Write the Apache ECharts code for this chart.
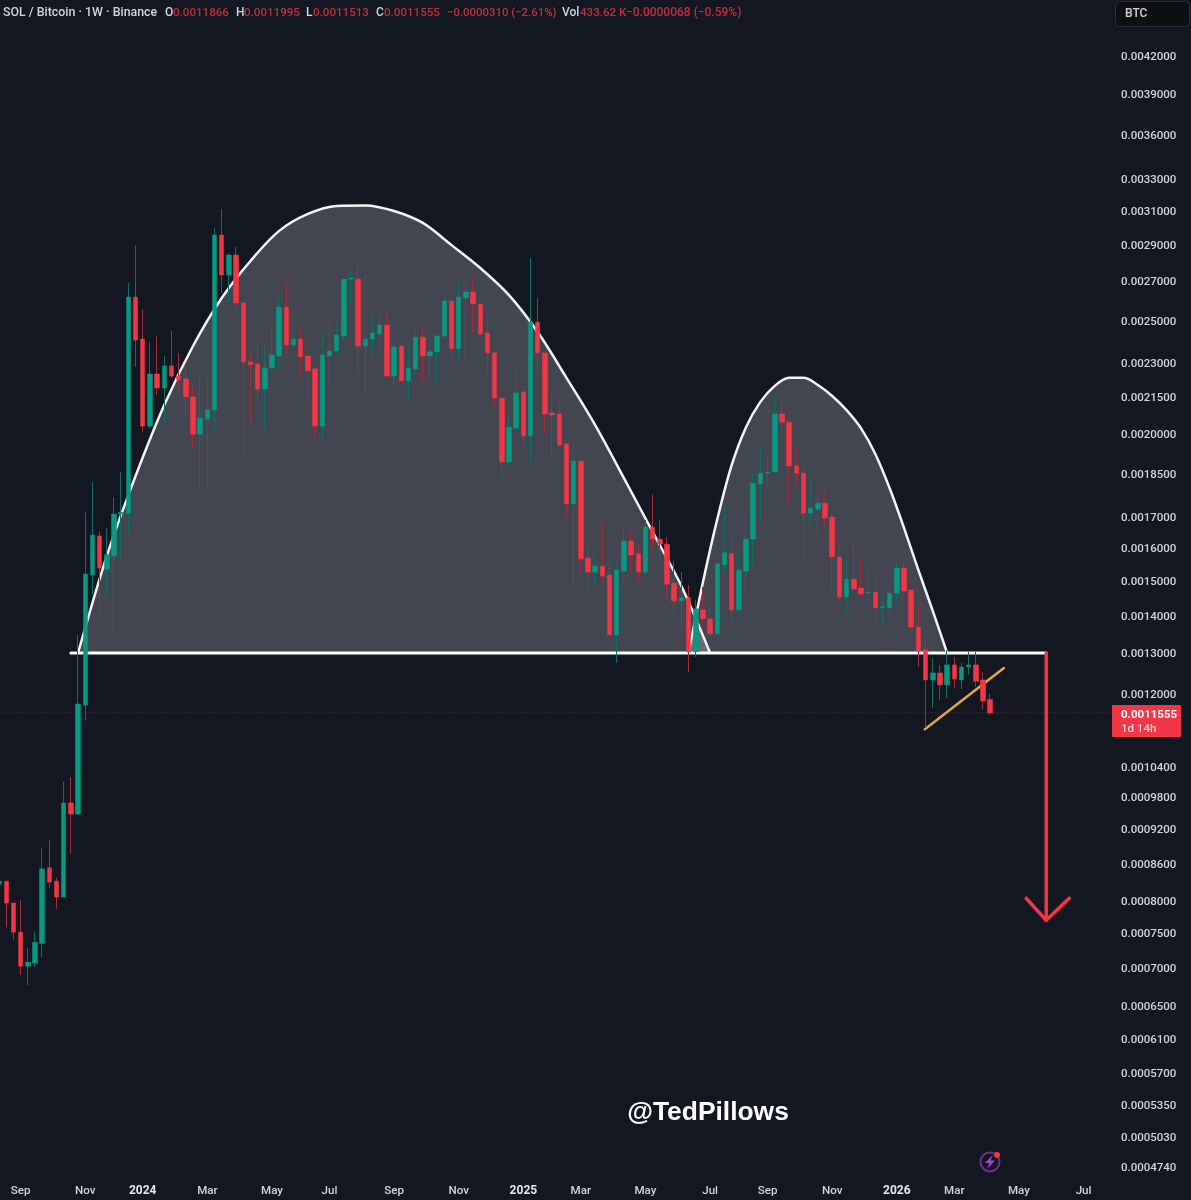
<!DOCTYPE html>
<html><head><meta charset="utf-8">
<style>html,body{margin:0;padding:0;background:#131722;overflow:hidden}#c{position:absolute;left:-10px;top:0;width:1201px;height:1200px}</style>
<script src="https://cdn.jsdelivr.net/npm/echarts@6/dist/echarts.min.js"></script>
</head><body><div id="c"></div>
<script>
// Weekly candles, prices in thousandths of a BTC
const opens = [
.8256,.8304,.7955,.7512,.7026,.7068,.7348,.8524,.8304,.8048,
.9683,.9474,1.1735,1.515,1.636,1.533,1.573,1.708,1.711,2.616,
2.409,2.030,2.249,2.188,2.285,2.240,2.227,2.150,1.998,2.058,
2.095,2.955,2.732,2.841,2.586,2.303,2.294,2.183,2.276,2.330,
2.565,2.381,2.409,2.330,2.272,2.030,2.330,2.353,2.423,2.710,
2.710,2.376,2.409,2.433,2.476,2.240,2.376,2.219,2.272,2.418,
2.330,2.349,2.423,2.596,2.363,2.611,2.642,2.581,2.438,2.344,
2.145,1.892,2.022,2.171,1.991,2.490,2.344,2.083,2.079,1.960,
1.742,1.895,1.567,1.524,1.542,1.515,1.347,1.527,1.620,1.580,
1.524,1.665,1.626,1.610,1.491,1.440,1.449,1.303,1.415,1.390,
1.350,1.546,1.580,1.415,1.527,1.626,1.812,1.851,1.855,2.079,
2.046,1.877,1.851,1.711,1.724,1.745,1.698,1.570,1.451,1.503,
1.477,1.463,1.465,1.421,1.421,1.462,1.536,1.471,1.368,1.308,
1.233,1.250,1.221,1.270,1.233,1.265,1.270,1.233,1.1866];
const closes = [
.8304,.7955,.7512,.7026,.7082,.7362,.8507,.8288,.8048,.9683,
.9474,1.176,1.518,1.639,1.536,1.577,1.708,1.714,2.616,2.404,
2.030,2.249,2.188,2.285,2.240,2.223,2.150,1.998,2.062,2.095,
2.955,2.732,2.841,2.586,2.303,2.290,2.183,2.276,2.335,2.565,
2.381,2.409,2.326,2.263,2.030,2.335,2.353,2.428,2.710,2.716,
2.376,2.409,2.438,2.476,2.240,2.372,2.219,2.276,2.418,2.330,
2.349,2.423,2.596,2.363,2.616,2.642,2.581,2.433,2.344,2.145,
1.892,2.026,2.166,1.991,2.490,2.344,2.079,2.075,1.956,1.742,
1.895,1.564,1.524,1.542,1.512,1.347,1.530,1.620,1.576,1.524,
1.665,1.626,1.610,1.488,1.440,1.449,1.303,1.418,1.390,1.350,
1.549,1.583,1.415,1.530,1.626,1.815,1.851,1.855,2.079,2.046,
1.877,1.851,1.711,1.728,1.745,1.695,1.570,1.451,1.503,1.474,
1.460,1.465,1.421,1.424,1.462,1.536,1.468,1.368,1.305,1.233,
1.250,1.221,1.270,1.235,1.265,1.270,1.230,1.183,1.1555];
const highs = [
.8320,.8304,.7955,.800,.728,.7525,.8864,.900,.8354,1.009,
1.019,1.347,1.714,1.819,1.649,1.662,1.766,1.855,2.689,2.897,
2.555,2.395,2.423,2.330,2.447,2.344,2.290,2.197,2.236,2.232,
2.997,3.110,2.852,2.886,2.586,2.344,2.395,2.381,2.471,2.616,
2.700,2.540,2.462,2.330,2.272,2.442,2.490,2.495,2.710,2.754,
2.791,2.743,2.520,2.530,2.535,2.390,2.381,2.390,2.452,2.462,
2.390,2.428,2.616,2.596,2.694,2.684,2.716,2.581,2.525,2.344,
2.145,2.075,2.254,2.201,2.824,2.611,2.344,2.171,2.129,1.960,
1.964,1.895,1.617,1.576,1.678,1.552,1.561,1.665,1.652,1.607,
1.688,1.776,1.688,1.633,1.558,1.524,1.486,1.443,1.480,1.429,
1.549,1.738,1.633,1.583,1.711,1.851,1.948,1.907,2.154,2.154,
2.050,1.948,1.888,1.840,1.763,1.783,1.708,1.607,1.561,1.607,
1.567,1.536,1.509,1.462,1.480,1.552,1.561,1.471,1.432,1.339,
1.287,1.270,1.308,1.290,1.275,1.303,1.303,1.252,1.1995];
const lows = [
.8224,.7585,.7405,.6905,.677,.7012,.7152,.8192,.7865,.8048,
.8762,.9455,1.138,1.457,1.407,1.449,1.355,1.561,1.649,2.280,
2.006,2.020,2.158,2.034,2.232,2.183,2.070,1.948,1.801,1.797,
2.014,2.636,2.591,2.540,1.918,2.042,2.124,2.026,2.258,2.267,
2.344,2.376,2.236,2.133,1.983,1.979,2.192,2.335,2.404,2.570,
2.254,2.150,2.330,2.358,2.236,2.201,2.210,2.141,2.254,2.210,
2.240,2.210,2.414,2.330,2.312,2.303,2.442,2.423,2.254,2.108,
1.837,1.881,2.022,1.948,1.892,2.258,2.002,1.907,1.952,1.698,
1.480,1.524,1.462,1.486,1.488,1.345,1.275,1.488,1.530,1.494,
1.500,1.592,1.552,1.449,1.407,1.360,1.252,1.290,1.360,1.347,
1.350,1.521,1.387,1.412,1.465,1.546,1.688,1.801,1.850,2.002,
1.749,1.808,1.555,1.671,1.645,1.662,1.474,1.435,1.407,1.471,
1.449,1.440,1.376,1.371,1.398,1.435,1.462,1.363,1.265,1.122,
1.167,1.185,1.190,1.214,1.211,1.245,1.216,1.164,1.1513];

// Price-axis tick labels
const priceTicks = [0.0042,0.0039,0.0036,0.0033,0.0031,0.0029,0.0027,0.0025,0.0023,0.00215,0.002,0.00185,0.0017,0.0016,0.0015,0.0014,0.0013,0.0012,0.00104,0.00098,0.00092,0.00086,0.0008,0.00075,0.0007,0.00065,0.00061,0.00057,0.000535,0.000503,0.000474];
// Month labels, keyed by the Monday that starts the month's first week
const monthLabels = {'2023-09-04':'Sep','2023-11-06':'Nov','2024-01-01':'2024','2024-03-04':'Mar','2024-05-06':'May','2024-07-01':'Jul','2024-09-02':'Sep','2024-11-04':'Nov','2025-01-06':'2025','2025-03-03':'Mar','2025-05-05':'May','2025-07-07':'Jul','2025-09-01':'Sep','2025-11-03':'Nov','2026-01-05':'2026','2026-03-02':'Mar','2026-05-04':'May','2026-07-06':'Jul'};
const yearLabels = ['2024','2025','2026'];
const firstWeek = '2023-08-14', weekCount = 156;

// Drawn patterns: week number (0 = 2023-09-04) and price in thousandths of a BTC
const leftDomeWeeks  = [8,12,16,20,24,28,32,36,40,44,48,52,56,60,64,68,72,76,80,84,88,92,96];
const leftDomePrices = [1.300,1.573,1.840,2.116,2.376,2.611,2.808,2.979,3.080,3.129,3.132,3.098,3.026,2.897,2.770,2.626,2.442,2.232,2.034,1.833,1.649,1.483,1.300];
const rightDomeWeeks  = [93,95,97,99,101,103,105,107,109,111,113,115,117,119,121,123,125,127,129];
const rightDomePrices = [1.300,1.494,1.691,1.880,2.026,2.129,2.197,2.232,2.232,2.201,2.154,2.095,2.022,1.922,1.797,1.662,1.530,1.412,1.300];
const neckline = [[7,1.300],[142.8,1.300]];
const trendline = [[125.9,1.119],[136.9,1.262]];
const arrowShaft = [[142.8,1.300],[142.8,0.769]];
const arrowHead = [[140,0.803],[142.8,0.769],[146,0.803]];
const lastClose = 1.1555;
const lastCloseLine = [[-3.5,lastClose],[152.2,lastClose]];

const headerParts = [
 ['SOL / Bitcoin · 1W · Binance',3,'#d1d4dc',12.4],['O',165,'#d1d4dc',12],['0.0011866',173,'#c2303e',11.6],
 ['H',236,'#d1d4dc',12],['0.0011995',244,'#c2303e',11.6],['L',306,'#d1d4dc',12],['0.0011513',313,'#c2303e',11.6],
 ['C',376,'#d1d4dc',12],['0.0011555',384,'#c2303e',11.6],['−0.0000310 (−2.61%)',447,'#c2303e',11.4],
 ['Vol',562,'#d1d4dc',12],['433.62 K',580,'#c2303e',11.6],['−0.0000068 (−0.59%)',626,'#c2303e',12]];

const P = v => v / 1000;
const categories = [];
{ const start = Date.parse(firstWeek + 'T00:00:00Z');
  for (let i = 0; i < weekCount; i++) categories.push(new Date(start + i * 7 * 864e5).toISOString().slice(0,10)); }
const wickData = opens.map((o,i) => [P(o),P(closes[i]),P(lows[i]),P(highs[i])]);
const bodyData = opens.map((o,i) => [P(o),P(closes[i]),P(Math.min(o,closes[i])),P(Math.max(o,closes[i]))]);
const toPts = (w,p) => w.map((x,i) => [x,P(p[i])]);
const pairs = a => a.map(d => [d[0],P(d[1])]);

const GREEN='#089981', RED='#f23645', FONT='Roboto, "Noto Sans", sans-serif';
const overlay = (name,data,color,width,extra) => Object.assign({
  name,type:'line',xAxisIndex:1,yAxisIndex:0,data,symbol:'none',silent:true,z:2,
  lineStyle:{color,width,cap:'round',join:'round'}},extra||{});
const fill = {color:'rgba(240,240,245,0.22)',opacity:1,origin:P(1.3)};

const chart = echarts.init(document.getElementById('c'),null,{renderer:'canvas'});
chart.setOption({
  backgroundColor:'#131722',animation:false,
  grid:{left:5.5,top:0,width:1120.4,height:1178},
  xAxis:[
    {type:'category',data:categories,boundaryGap:true,axisLine:{show:false},axisTick:{show:false},splitLine:{show:false},
     axisLabel:{interval:(i,v)=>!!monthLabels[v],margin:7,hideOverlap:false,
       formatter:v=>{const m=monthLabels[v];return yearLabels.includes(m)?'{b|'+m+'}':m;},
       color:'#d1d4dc',fontFamily:FONT,fontSize:11.6,fontWeight:500,
       rich:{b:{color:'#e6e8ee',fontFamily:FONT,fontSize:12,fontWeight:700}}}},
    {type:'value',min:-3.5,max:152.5,show:false,position:'bottom'}
  ],
  yAxis:{type:'log',logBase:10,min:0.00046346,max:0.004689,position:'right',
    axisLine:{show:false},axisTick:{show:false},splitLine:{show:false},
    axisLabel:{customValues:priceTicks,margin:5,align:'left',verticalAlign:'top',lineHeight:3,
      formatter:v=>Number(v).toFixed(7),color:'#d1d4dc',fontFamily:FONT,fontSize:11.5,fontWeight:500}},
  series:[
    overlay('Last close',pairs(lastCloseLine),'#8a2732',1,{lineStyle:{color:'#8a2732',width:1,type:[1,2]},z:1}),
    overlay('Left dome',toPts(leftDomeWeeks,leftDomePrices),'#f4f4f4',2.5,{smooth:0.33,areaStyle:fill}),
    overlay('Right dome',toPts(rightDomeWeeks,rightDomePrices),'#f4f4f4',2.5,{smooth:0.33,areaStyle:fill}),
    overlay('Neckline',pairs(neckline),'#ffffff',3),
    overlay('Trendline',pairs(trendline),'#e3a63f',2.5),
    overlay('Arrow shaft',pairs(arrowShaft),RED,3.5),
    overlay('Arrow head',pairs(arrowHead),RED,3.5),
    {name:'SOL/BTC wicks',type:'candlestick',xAxisIndex:0,yAxisIndex:0,z:3,silent:true,
     barWidth:1,data:wickData,
     itemStyle:{color:'#0d6f62',color0:'#a12d3b',borderColor:'#0d6f62',borderColor0:'#a12d3b',borderWidth:1}},
    {name:'SOL/BTC',type:'candlestick',xAxisIndex:0,yAxisIndex:0,z:4,silent:true,
     barWidth:5,data:bodyData,
     itemStyle:{color:GREEN,color0:RED,borderColor:GREEN,borderColor0:RED,borderWidth:0.5}}
  ],
  graphic:[{type:'group',x:10,y:0,silent:true,children:[
    ...headerParts.map(([t,x,c,s])=>({type:'text',x,y:13,z:20,
      style:{text:t,fill:c,font:'500 '+s+'px '+FONT,textVerticalAlign:'middle'}})),
    {type:'rect',z:20,shape:{x:1115.5,y:1.5,width:74,height:25,r:4},style:{fill:'#0e0f12',stroke:'#2a2e39',lineWidth:1}},
    {type:'text',x:1125,y:14,z:21,style:{text:'BTC',fill:'#d1d4dc',font:'500 12px '+FONT,textVerticalAlign:'middle'}},
    {type:'rect',z:20,shape:{x:1112,y:705,width:69,height:32,r:1},style:{fill:RED}},
    {type:'text',x:1121,y:715,z:21,style:{text:'0.0011555',fill:'#ffffff',font:'700 11.5px '+FONT,textVerticalAlign:'middle'}},
    {type:'text',x:1121,y:729,z:21,style:{text:'1d 14h',fill:'#ffd6da',font:'500 11.5px '+FONT,textVerticalAlign:'middle'}},
    {type:'text',x:708,y:1113,z:21,style:{text:'@TedPillows',fill:'#ffffff',font:'700 26.4px "Liberation Sans", Arial, sans-serif',textAlign:'center',textVerticalAlign:'middle'}},
    {type:'circle',z:20,shape:{cx:990,cy:1162,r:9.5},style:{fill:'none',stroke:'#6f2d91',lineWidth:2}},
    {type:'polygon',z:21,shape:{points:[[993,1155],[985,1163],[989.5,1163],[987,1169],[995,1160.5],[990.5,1160.5]]},style:{fill:'#a347d1'}},
    {type:'circle',z:22,shape:{cx:997,cy:1155,r:3},style:{fill:RED}}
  ]}]
});
</script></body></html>
